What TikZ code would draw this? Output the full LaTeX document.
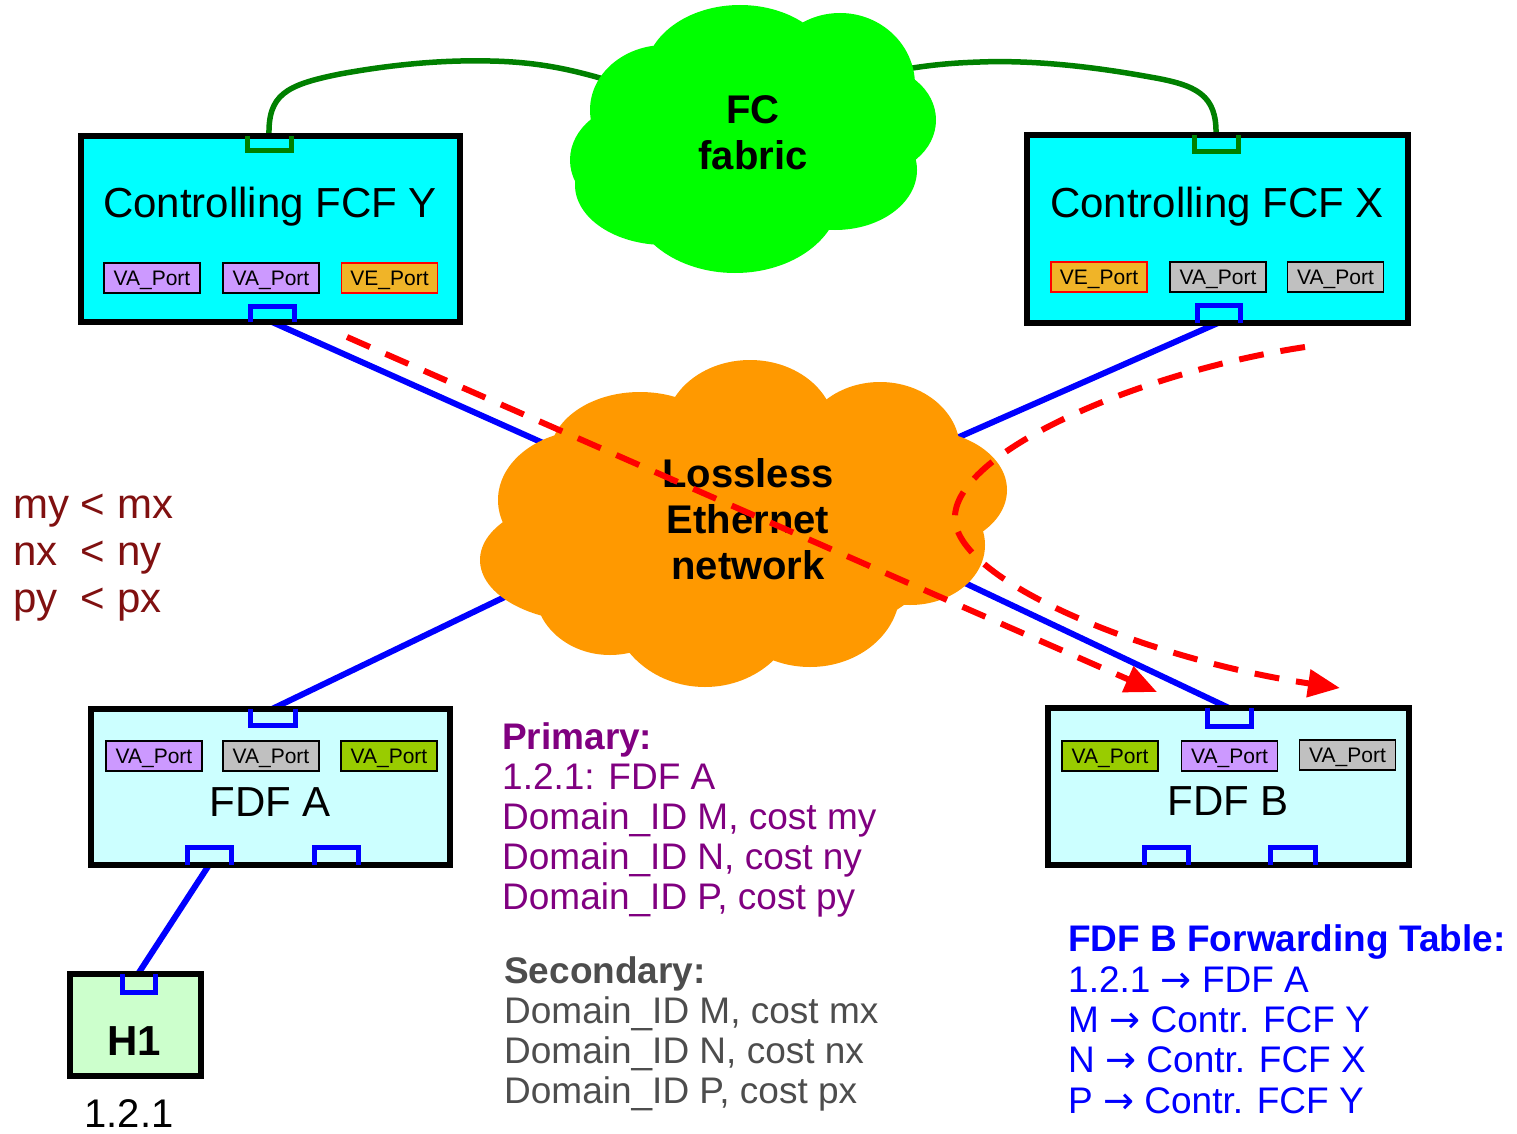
\documentclass[tikz,border=0pt]{standalone}
\usepackage{fontspec}
\setmainfont{Liberation Sans}
\newfontfamily\arrowfont{DejaVu Sans}
\usetikzlibrary{arrows.meta}

\definecolor{fcfcyan}{HTML}{00FFFF}
\definecolor{fdfcyan}{HTML}{CCFFFF}
\definecolor{hostgreen}{HTML}{CCFFCC}
\definecolor{lav}{HTML}{CC99FF}
\definecolor{pgray}{HTML}{C0C0C0}
\definecolor{plime}{HTML}{99CC00}
\definecolor{vegold}{HTML}{F0B428}
\definecolor{ethorange}{HTML}{FF9900}
\definecolor{fcgreen}{HTML}{00FF00}
\definecolor{linkgreen}{HTML}{008000}
\definecolor{primpurple}{HTML}{800080}
\definecolor{secgray}{HTML}{4D4D4D}
\definecolor{costred}{HTML}{801010}

\newcommand\fsz[1]{\fontsize{#1}{#1}\selectfont}
\newcommand\fwd{{\arrowfont →}}

\begin{document}
\begin{tikzpicture}[x=1pt,y=-1pt,
  box/.style={draw=black, line width=5.5pt, rectangle, inner sep=0pt},
  plab/.style={draw=black, line width=1.5pt, rectangle, inner sep=0pt,
    minimum width=96pt, minimum height=30pt, text height=15pt, text depth=0pt,
    font=\fsz{21}},
  veplab/.style={plab, draw=red, fill=vegold},
  blueport/.style={draw=blue, line width=5pt},
  greenport/.style={draw=linkgreen, line width=5pt},
  link/.style={draw=blue, line width=6pt},
  fclink/.style={draw=linkgreen, line width=5.5pt},
  route/.style={draw=red, line width=6pt, dash pattern=on 25pt off 17pt,
    -{Triangle[length=32pt,width=27pt]}},
  boxtext/.style={anchor=base, inner sep=0pt, font=\fsz{42}},
  cloudtext/.style={anchor=base, inner sep=0pt, font=\fsz{40}\bfseries},
  line/.style={anchor=base west, inner sep=0pt, font=\fsz{37}},
]
\useasboundingbox (0,0) rectangle (1517,1134);

% ---------- attachment points ----------
\coordinate (fcfy-top) at (269,136);
\coordinate (fcfy-bot) at (272,322);
\coordinate (fcfx-top) at (1216,135);
\coordinate (fcfx-bot) at (1218,323);
\coordinate (fdfa-top) at (272,709);
\coordinate (fdfa-bl)  at (209,865);
\coordinate (fdfb-top) at (1229,708);
\coordinate (h1-top)   at (138,974);
\coordinate (fc-left)  at (620,84);
\coordinate (fc-right) at (900,70);
\coordinate (eth-nw)   at (700,513);
\coordinate (eth-ne)   at (800,507);
\coordinate (eth-sw)   at (700,503);
\coordinate (eth-se)   at (800,505);

% ---------- Ethernet links (run under the cloud) ----------
\draw[link] (fcfy-bot) -- (eth-nw);
\draw[link] (fcfx-bot) -- (eth-ne);
\draw[link] (fdfa-top) -- (eth-sw);
\draw[link] (fdfb-top) -- (eth-se);
\draw[link] (fdfa-bl) -- (h1-top);

% ---------- FC links ----------
\draw[fclink] (fcfy-top) .. controls (268,95) and (285,85) .. (340,74)
  .. controls (400,63) and (450,60) .. (490,61)
  .. controls (540,62) and (575,70) .. (fc-left);
\draw[fclink] (fcfx-top) .. controls (1217,95) and (1197,85) .. (1150,77)
  .. controls (1090,66) and (1030,60) .. (980,62)
  .. controls (950,63) and (930,65) .. (fc-right);

% ---------- switches ----------
\node[box, fill=fcfcyan, minimum width=379pt, minimum height=186pt] (fcfy) at (270.5,229) {};
\node[box, fill=fcfcyan, minimum width=381pt, minimum height=188pt] (fcfx) at (1217.5,229) {};
\node[box, fill=fdfcyan, minimum width=359pt, minimum height=156pt] (fdfa) at (270.5,787) {};
\node[box, fill=fdfcyan, minimum width=361pt, minimum height=157pt] (fdfb) at (1228.5,786.5) {};
\node[box, fill=hostgreen, minimum width=131pt, minimum height=102pt] (h1) at (135.5,1025) {};

% ports
\draw[greenport] (247,136) -- (247,151) -- (291,151) -- (291,136);
\draw[blueport]  (250,322) -- (250,306) -- (294,306) -- (294,322);
\draw[greenport] (1194,135) -- (1194,152) -- (1238,152) -- (1238,135);
\draw[blueport]  (1197,323) -- (1197,305) -- (1240,305) -- (1240,323);
\draw[blueport]  (250,709) -- (250,725) -- (295,725) -- (295,709);
\draw[blueport]  (187,865) -- (187,847) -- (231,847) -- (231,865);
\draw[blueport]  (314,865) -- (314,847) -- (358,847) -- (358,865);
\draw[blueport]  (1207,708) -- (1207,726) -- (1251,726) -- (1251,708);
\draw[blueport]  (1144,865) -- (1144,847) -- (1188,847) -- (1188,865);
\draw[blueport]  (1270,865) -- (1270,847) -- (1315,847) -- (1315,865);
\draw[blueport]  (122,974) -- (122,992) -- (155,992) -- (155,974);

% titles
\node[boxtext] (fcfy-t) at (270,218) {Controlling FCF Y};
\node[boxtext] (fcfx-t) at (1217,218) {Controlling FCF X};
\node[boxtext] (fdfa-t) at (270,816) {FDF A};
\node[boxtext] (fdfb-t) at (1228,815) {FDF B};
\node[anchor=base, inner sep=0pt, font=\fsz{42}\bfseries] (h1-t) at (134,1055) {H1};
\node[anchor=base, inner sep=0pt, font=\fsz{40}] (h1-addr) at (129,1127) {1.2.1};

% port labels
\node[plab, fill=lav]   (y1) at (152,278)   {VA\_Port};
\node[plab, fill=lav]   (y2) at (271,278)   {VA\_Port};
\node[veplab]           (y3) at (389.5,278) {VE\_Port};
\node[veplab]           (x1) at (1099,277)  {VE\_Port};
\node[plab, fill=pgray] (x2) at (1218,277)  {VA\_Port};
\node[plab, fill=pgray] (x3) at (1335.5,277) {VA\_Port};
\node[plab, fill=lav]   (a1) at (154,756)   {VA\_Port};
\node[plab, fill=pgray] (a2) at (271,756)   {VA\_Port};
\node[plab, fill=plime] (a3) at (389,756)   {VA\_Port};
\node[plab, fill=plime] (b1) at (1110,756)  {VA\_Port};
\node[plab, fill=lav]   (b2) at (1229.5,756) {VA\_Port};
\node[plab, fill=pgray] (b3) at (1347.5,755) {VA\_Port};

% ---------- FC fabric cloud ----------
\fill[fcgreen]
  (640,160) ellipse [x radius=70, y radius=57]
  (665,110) ellipse [x radius=75, y radius=65]
  (740,75)  ellipse [x radius=95, y radius=70]
  (840,85)  ellipse [x radius=75, y radius=72]
  (870,120) ellipse [x radius=66, y radius=55]
  (835,170) ellipse [x radius=82, y radius=60]
  (735,195) ellipse [x radius=105, y radius=78]
  (665,185) ellipse [x radius=90, y radius=60]
  (750,140) ellipse [x radius=140, y radius=95];
\node[cloudtext] (fc1) at (753,124) {FC};
\node[cloudtext] (fc2) at (753,170) {fabric};

% ---------- Ethernet cloud ----------
\fill[ethorange]
  (750,430) ellipse [x radius=85, y radius=70]
  (640,455) ellipse [x radius=90, y radius=63]
  (590,500) ellipse [x radius=92, y radius=70]
  (590,560) ellipse [x radius=110, y radius=62]
  (610,590) ellipse [x radius=75, y radius=65]
  (705,600) ellipse [x radius=95, y radius=87]
  (810,590) ellipse [x radius=90, y radius=77]
  (910,545) ellipse [x radius=75, y radius=60]
  (920,490) ellipse [x radius=87, y radius=60]
  (880,450) ellipse [x radius=80, y radius=68]
  (745,520) ellipse [x radius=210, y radius=130];
\node[cloudtext] (eth1) at (748,487) {Lossless};
\node[cloudtext] (eth2) at (748,533) {Ethernet};
\node[cloudtext] (eth3) at (748,579) {network};

% ---------- routing paths ----------
\coordinate (r1-start) at (347,337);
\coordinate (r1-end)   at (1157,692);
\coordinate (r2-start) at (1305,347);
\coordinate (r2-turn)  at (955,515);
\coordinate (r2-end)   at (1340,688);
\draw[route] (r1-start) -- (r1-end);
\draw[route] (r2-start) .. controls (1140,372) and (960,450) .. (r2-turn)
  .. controls (950,580) and (1150,660) .. (r2-end);

% ---------- cost relations ----------
\begin{scope}[every node/.style={line, font=\fsz{42}, text=costred}]
\node (c1) at (13,518) {my < mx};
\node (c2) at (13,565) {nx\ \ < ny};
\node (c3) at (13,612) {py\ \ < px};
\end{scope}

% ---------- FDF A advertisement ----------
\begin{scope}[every node/.style={line, text=primpurple}]
\node[font=\fsz{37}\bfseries] (p0) at (502,749) {Primary:};
\node (p1) at (502,789) {1.2.1: FDF A};
\node (p2) at (502,829) {Domain\_ID M, cost my};
\node (p3) at (502,869) {Domain\_ID N, cost ny};
\node (p4) at (502,909) {Domain\_ID P, cost py};
\end{scope}
\begin{scope}[every node/.style={line, text=secgray}]
\node[font=\fsz{37}\bfseries] (s0) at (504,983) {Secondary:};
\node (s1) at (504,1023) {Domain\_ID M, cost mx};
\node (s2) at (504,1063) {Domain\_ID N, cost nx};
\node (s3) at (504,1103) {Domain\_ID P, cost px};
\end{scope}

% ---------- FDF B forwarding table ----------
\begin{scope}[every node/.style={line, text=blue}]
\node[font=\fsz{37}\bfseries] (t0) at (1068,951) {FDF B Forwarding Table:};
\node (t1) at (1068,992)  {1.2.1 \fwd{} FDF A};
\node (t2) at (1068,1032) {M \fwd{} Contr. FCF Y};
\node (t3) at (1068,1072) {N \fwd{} Contr. FCF X};
\node (t4) at (1068,1113) {P \fwd{} Contr. FCF Y};
\end{scope}
\end{tikzpicture}
\end{document}
